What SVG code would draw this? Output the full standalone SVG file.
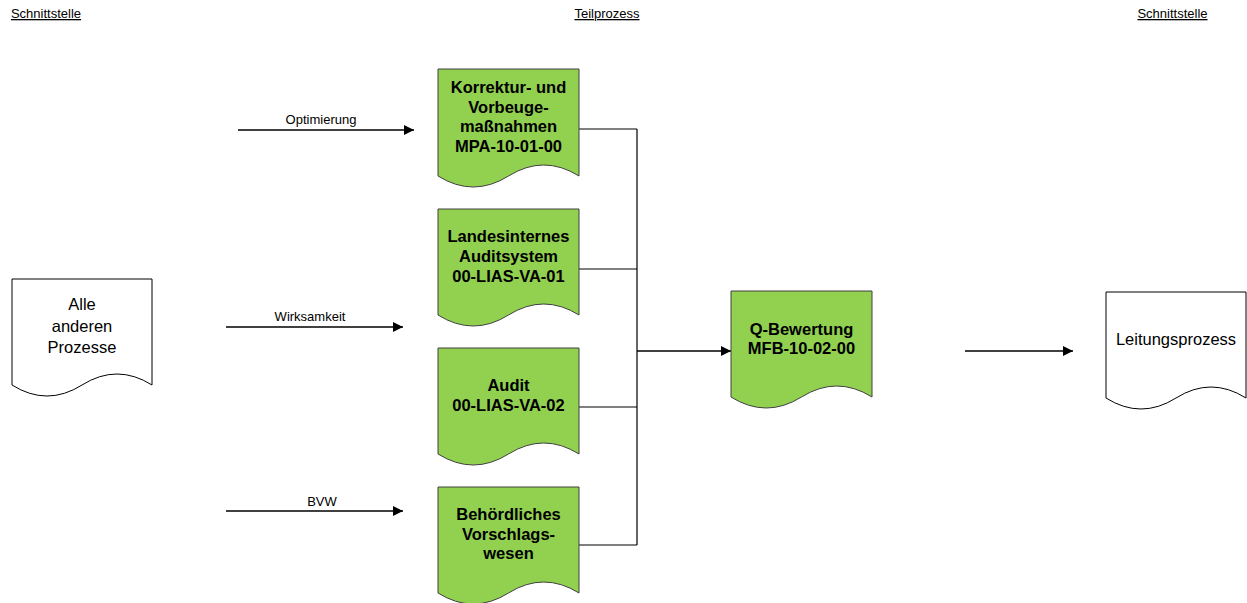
<svg xmlns="http://www.w3.org/2000/svg" width="1247" height="603" viewBox="0 0 1247 603">
<style>
.hdr{font-family:"Liberation Sans",Arial,sans-serif;font-size:13px;fill:#000;text-decoration:underline;text-anchor:middle}
.lbl{font-family:"Liberation Sans",Arial,sans-serif;font-size:13px;fill:#000;text-anchor:middle}
.gt{font-family:"Liberation Sans",Arial,sans-serif;font-size:16.5px;font-weight:bold;fill:#000;text-anchor:middle}
.wt{font-family:"Liberation Sans",Arial,sans-serif;font-size:16.5px;fill:#000;text-anchor:middle}
.green{fill:#92D050;stroke:#404040;stroke-width:1}
.white{fill:#fff;stroke:#000;stroke-width:1}
.conn{fill:none;stroke:#000;stroke-width:1.2}
.arr{fill:none;stroke:#000;stroke-width:1.3;marker-end:url(#ah)}
</style>
<defs>
<marker id="ah" markerUnits="userSpaceOnUse" markerWidth="12" markerHeight="10" refX="10" refY="5" orient="auto">
<path d="M0,0 L10,5 L0,10 Z" fill="#000"/>
</marker>
<path id="doc" d="M0,0 H141 V106 Q105.75,84 70.5,106 T0,106 Z"/>
</defs>
<g id="headers">
<text class="hdr" x="46" y="18">Schnittstelle</text>
<text class="hdr" x="607" y="18">Teilprozess</text>
<text class="hdr" x="1172.5" y="18">Schnittstelle</text>
</g>
<g id="connectors">
<path class="conn" d="M579,129 H637 M579,269 H637 M579,407 H637 M579,545 H637 M637,129 V545"/>
<line class="arr" x1="637" y1="351" x2="731" y2="351" stroke-width="1.6"/>
<line class="arr" x1="238" y1="130" x2="414" y2="130"/>
<line class="arr" x1="226" y1="327" x2="403" y2="327"/>
<line class="arr" x1="226" y1="511" x2="403" y2="511"/>
<line class="arr" x1="965" y1="351" x2="1073" y2="351"/>
<text class="lbl" x="321" y="124">Optimierung</text>
<text class="lbl" x="310" y="321">Wirksamkeit</text>
<text class="lbl" x="322" y="506">BVW</text>
</g>
<g id="n-alle">
<path class="white" d="M12,279 H152 V385 Q117,363 82,385 T12,385 Z"/>
<text class="wt" x="82" y="310">Alle</text>
<text class="wt" x="82" y="331.5">anderen</text>
<text class="wt" x="82" y="353">Prozesse</text>
</g>
<g id="n-korrektur">
<path class="green" d="M438,69 H579 V176 Q543.75,154 508.5,176 T438,176 Z"/>
<text class="gt" x="508.5" y="93">Korrektur- und</text>
<text class="gt" x="508.5" y="112.7">Vorbeuge-</text>
<text class="gt" x="508.5" y="132.3">maßnahmen</text>
<text class="gt" x="508.5" y="152">MPA-10-01-00</text>
</g>
<g id="n-lias">
<path class="green" d="M438,209 H579 V315 Q543.75,293 508.5,315 T438,315 Z"/>
<text class="gt" x="508.5" y="242">Landesinternes</text>
<text class="gt" x="508.5" y="262">Auditsystem</text>
<text class="gt" x="508.5" y="282">00-LIAS-VA-01</text>
</g>
<g id="n-audit">
<path class="green" d="M438,348 H579 V454 Q543.75,432 508.5,454 T438,454 Z"/>
<text class="gt" x="508.5" y="391">Audit</text>
<text class="gt" x="508.5" y="411">00-LIAS-VA-02</text>
</g>
<g id="n-bvw">
<path class="green" d="M438,487 H579 V593 Q543.75,571 508.5,593 T438,593 Z"/>
<text class="gt" x="508.5" y="520">Behördliches</text>
<text class="gt" x="508.5" y="539.5">Vorschlags-</text>
<text class="gt" x="508.5" y="559">wesen</text>
</g>
<g id="n-qbew">
<path class="green" d="M731,291 H872 V397 Q836.75,375 801.5,397 T731,397 Z"/>
<text class="gt" x="801.5" y="335">Q-Bewertung</text>
<text class="gt" x="801.5" y="354">MFB-10-02-00</text>
</g>
<g id="n-leitung">
<path class="white" d="M1106,292 H1246 V398 Q1211,376 1176,398 T1106,398 Z"/>
<text class="wt" x="1176" y="345">Leitungsprozess</text>
</g>
</svg>
